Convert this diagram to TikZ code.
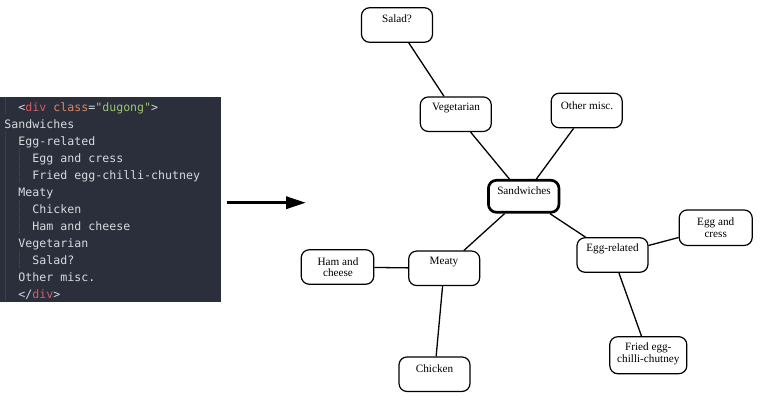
\documentclass[tikz,border=0pt]{standalone}
\usepackage{fontspec}
\setmainfont{Liberation Serif}
\newfontfamily\codefont{DejaVu Sans Mono}
\usetikzlibrary{arrows.meta}
\definecolor{panelbg}{HTML}{2B2F3B}
\definecolor{codetext}{HTML}{D7DADF}
\definecolor{cred}{HTML}{CF5F63}
\definecolor{corange}{HTML}{D9875F}
\definecolor{cgreen}{HTML}{9DC46B}
\definecolor{guide}{HTML}{4A4F5B}
\tikzset{
  box/.style={draw=black, line width=1.2bp, rounded corners=8bp, minimum width=71bp, minimum height=34.5bp, inner sep=0pt},
  rootbox/.style={box, line width=2.7bp, minimum width=70.5bp, minimum height=32bp},
  lbl/.style={inner sep=0pt, align=center, font=\fontsize{11.2bp}{11.6bp}\selectfont},
  edge/.style={line width=1.3bp},
  code/.style={anchor=base west, inner sep=0pt, text=codetext, font=\codefont\fontsize{11.6bp}{14bp}\selectfont},
  guideline/.style={draw=guide, line width=0.8bp, dash pattern=on 1bp off 1bp},
  bigarrow/.style={line width=3.5bp, -{Triangle[length=20bp, width=12bp]}}
}
\begin{document}
\begin{tikzpicture}[x=1bp, y=-1bp]
\useasboundingbox (0,0) rectangle (760,400);
% code panel
\fill[panelbg] (0,97) rectangle (221,302);
\draw[guideline] (5.3,97) -- (5.3,114);
\draw[guideline] (5.3,132) -- (5.3,302);
\draw[guideline] (19.5,149) -- (19.5,183);
\draw[guideline] (19.5,200) -- (19.5,234);
\draw[guideline] (19.5,251) -- (19.5,268);
\node[code] (c0) at (18.3,111.3) {<\textcolor{cred}{div} \textcolor{corange}{class}=\textcolor{cgreen}{"dugong"}>};
\node[code] (c1) at (4.3,128.3) {Sandwiches};
\node[code] (c2) at (18.3,145.3) {Egg-related};
\node[code] (c3) at (32.3,162.3) {Egg and cress};
\node[code] (c4) at (32.3,179.3) {Fried egg-chilli-chutney};
\node[code] (c5) at (18.3,196.3) {Meaty};
\node[code] (c6) at (32.3,213.3) {Chicken};
\node[code] (c7) at (32.3,230.3) {Ham and cheese};
\node[code] (c8) at (18.3,247.3) {Vegetarian};
\node[code] (c9) at (32.3,264.3) {Salad?};
\node[code] (c10) at (18.3,281.3) {Other misc.};
\node[code] (c11) at (18.3,298.3) {</\textcolor{cred}{div}>};
% arrow
\coordinate (arrS) at (226.5,202.7);
\coordinate (arrE) at (306,202.7);
\draw[bigarrow] (arrS) -- (arrE);
% boxes
\node[box] (salad) at (397,25) {};
\node[box] (veg) at (455.8,114.2) {};
\node[box] (other) at (586.7,110.5) {};
\node[rootbox] (sand) at (523.7,196.3) {};
\node[box] (meaty) at (444.2,268.3) {};
\node[box, minimum width=72.5bp] (ham) at (337.5,267) {};
\node[box] (chicken) at (434.5,374.2) {};
\node[box] (egg) at (612.5,255) {};
\node[box, minimum width=73bp, minimum height=35.5bp] (cress) at (715.7,227.7) {};
\node[box, minimum width=77bp, minimum height=37bp] (fried) at (648.3,355.2) {};
% labels
\node[lbl] (saladT) at (397,18.3) {Salad?};
\node[lbl] (vegT) at (456,108.3) {Vegetarian};
\node[lbl] (otherT) at (587,105.7) {Other misc.};
\node[lbl] (sandT) at (524,190.7) {Sandwiches};
\node[lbl] (meatyT) at (444,262.3) {Meaty};
\node[lbl] (hamT) at (338,267) {Ham and\\cheese};
\node[lbl] (chickenT) at (434.5,368.3) {Chicken};
\node[lbl] (eggT) at (612.5,249.3) {Egg-related};
\node[lbl] (cressT) at (715.7,227.5) {Egg and\\cress};
\node[lbl] (friedT) at (648.3,353.8) {Fried egg-\\chilli-chutney};
% edges
\draw[edge] (salad) -- (veg);
\draw[edge] (veg) -- (sand);
\draw[edge] (other) -- (sand);
\draw[edge] (sand) -- (meaty);
\draw[edge] (sand) -- (egg);
\draw[edge] (meaty) -- (ham);
\draw[edge] (meaty) -- (chicken);
\draw[edge] (egg) -- (cress);
\draw[edge] (egg) -- (fried);
\end{tikzpicture}
\end{document}
